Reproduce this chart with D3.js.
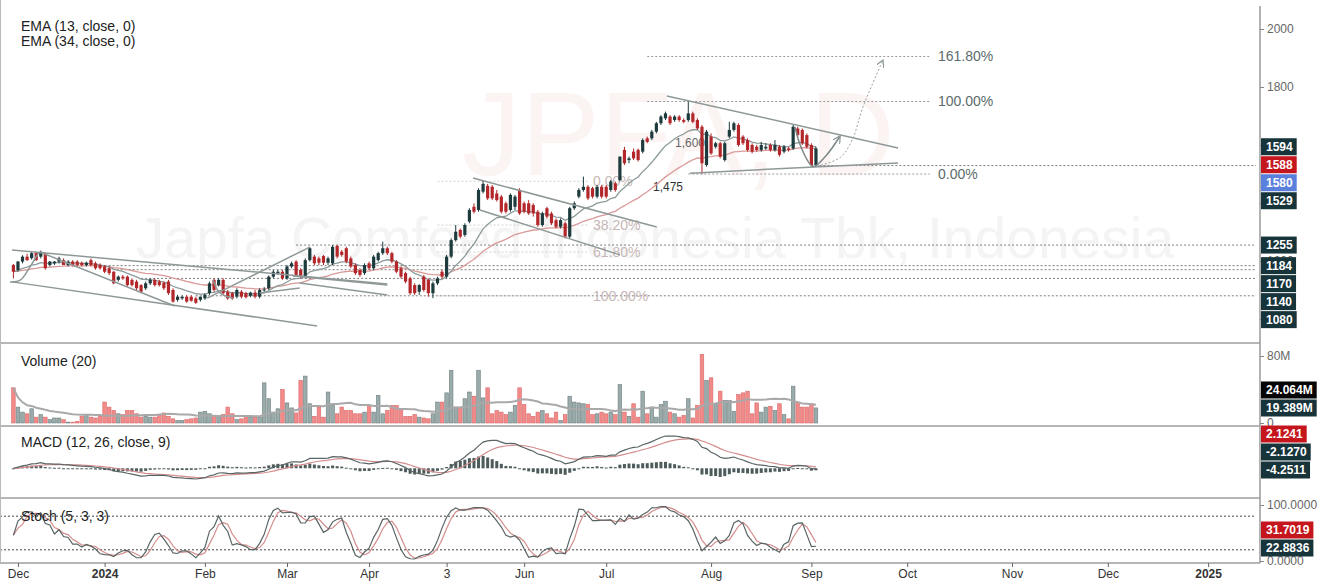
<!DOCTYPE html>
<html>
<head>
<meta charset="utf-8">
<script src="https://cdn.jsdelivr.net/npm/d3@7"></script>
<style>
  html, body { margin: 0; padding: 0; background: #fff; }
  svg { display: block; font-family: Arial, "Liberation Sans", sans-serif; }
</style>
</head>
<body>
<div id="chart"></div>
<script>
// daily bars, JPFA Nov 30 2023 .. Sep 3 2024 (index = trading day)
const open = [
  1186,1169,1198,1215,1210,1229,1215,1225,1186,1192, 1198,1203,1186,1198,1198,1194,1186,1203,1192,1186,
  1181,1175,1163,1135,1146,1146,1135,1129,1117,1106, 1123,1135,1129,1125,1129,1100,1066,1071,1077,1077,
  1071,1066,1071,1089,1135,1117,1135,1094,1089,1077, 1094,1089,1080,1091,1077,1100,1106,1146,1158,1163,
  1140,1181,1198,1169,1146,1203,1215,1209,1217,1194, 1192,1252,1232,1244,1209,1186,1169,1158,1192,1175,
  1203,1227,1244,1227,1198,1175,1158,1140,1117,1094, 1146,1135,1089,1123,1163,1146,1215,1272,1307,1290,
  1336,1387,1376,1439,1459,1456,1433,1422,1399,1376, 1387,1445,1399,1399,1393,1370,1324,1382,1364,1341,
  1318,1330,1284,1382,1422,1445,1456,1451,1422,1456, 1456,1445,1468,1479,1583,1548,1577,1583,1577,1623,
  1623,1646,1675,1692,1698,1686,1698,1686,1686,1709, 1686,1663,1531,1629,1594,1606,1548,1629,1652,1669,
  1629,1617,1600,1594,1583,1588,1600,1583,1594,1577, 1588,1588,1657,1652,1634,1600,1531
];
const high = [
  1190,1200,1220,1225,1232,1232,1236,1230,1200,1200, 1215,1209,1203,1203,1203,1198,1198,1209,1198,1192,
  1186,1181,1165,1150,1152,1150,1140,1135,1120,1129, 1140,1140,1135,1129,1135,1106,1083,1083,1083,1083,
  1077,1077,1089,1129,1140,1140,1140,1100,1094,1106, 1100,1094,1094,1100,1106,1110,1150,1169,1169,1169,
  1186,1198,1203,1175,1209,1249,1221,1215,1221,1215, 1255,1255,1238,1249,1215,1192,1175,1192,1198,1221,
  1232,1267,1249,1232,1203,1181,1163,1146,1123,1120, 1152,1140,1129,1146,1169,1221,1278,1324,1312,1330,
  1382,1399,1451,1477,1466,1462,1445,1428,1405,1433, 1428,1451,1405,1410,1399,1376,1370,1387,1370,1347,
  1347,1336,1387,1405,1451,1491,1462,1456,1462,1462, 1462,1479,1474,1560,1594,1560,1588,1588,1623,1629,
  1652,1680,1703,1715,1703,1703,1703,1692,1752,1715, 1692,1669,1652,1640,1611,1611,1611,1680,1680,1675,
  1634,1623,1606,1600,1611,1606,1606,1617,1600,1600, 1594,1669,1663,1657,1640,1606,1594
];
const low = [
  1140,1163,1192,1200,1205,1200,1209,1170,1181,1186, 1192,1186,1181,1181,1181,1181,1181,1181,1170,1170,
  1158,1152,1120,1129,1135,1112,1112,1100,1089,1100, 1117,1112,1112,1100,1083,1056,1060,1066,1056,1060,
  1052,1060,1066,1083,1094,1112,1083,1066,1066,1071, 1071,1071,1075,1071,1071,1094,1100,1140,1152,1135,
  1135,1175,1146,1140,1140,1198,1186,1186,1186,1186, 1186,1209,1215,1192,1175,1152,1146,1152,1169,1169,
  1198,1221,1221,1192,1158,1140,1123,1083,1083,1083, 1094,1077,1072,1117,1140,1140,1209,1267,1278,1284,
  1330,1364,1370,1433,1410,1410,1405,1364,1364,1370, 1376,1359,1364,1359,1353,1318,1318,1347,1324,1312,
  1312,1278,1278,1376,1416,1439,1410,1416,1416,1416, 1416,1439,1439,1474,1531,1537,1548,1543,1571,1606,
  1617,1640,1669,1686,1669,1680,1680,1675,1680,1675, 1652,1500,1525,1566,1588,1554,1543,1623,1646,1594,
  1600,1577,1571,1577,1577,1583,1577,1577,1560,1571, 1577,1583,1629,1600,1588,1525,1525
];
const close = [
  1163,1198,1215,1203,1227,1203,1232,1175,1198,1198, 1209,1186,1198,1186,1186,1186,1194,1186,1175,1175,
  1163,1158,1123,1146,1140,1117,1117,1106,1094,1123, 1135,1117,1117,1106,1089,1060,1077,1077,1060,1063,
  1056,1077,1083,1123,1100,1135,1089,1071,1071,1100, 1077,1075,1091,1077,1100,1102,1146,1163,1163,1140,
  1181,1192,1152,1146,1203,1244,1192,1194,1194,1209, 1249,1215,1221,1198,1181,1158,1152,1186,1175,1215,
  1227,1244,1227,1198,1163,1146,1129,1089,1089,1117, 1100,1089,1123,1140,1146,1215,1272,1301,1284,1324,
  1376,1370,1445,1466,1416,1416,1410,1370,1370,1428, 1422,1364,1370,1364,1364,1324,1364,1353,1330,1318,
  1341,1284,1382,1399,1445,1456,1416,1422,1456,1422, 1422,1474,1445,1560,1537,1554,1554,1548,1617,1611,
  1646,1675,1698,1709,1675,1698,1686,1680,1709,1680, 1657,1537,1646,1571,1606,1560,1606,1652,1675,1600,
  1606,1583,1577,1583,1600,1594,1583,1600,1566,1594, 1583,1663,1634,1606,1594,1531,1588
];
// volume in millions
const volume = [
  42,19,13,11,17,7,10,7,4,6, 6,4,1,1,2,8,10,7,6,8,
  25,19,15,11,10,15,15,11,7,8, 7,7,9,12,8,5,3,3,4,5,
  6,13,14,11,9,9,10,19,11,4, 5,7,7,7,7,48,29,13,17,40,
  24,18,12,51,56,23,8,19,7,37, 21,11,19,15,15,11,11,13,21,13,
  33,11,15,21,21,15,8,8,10,7, 6,5,11,25,25,36,63,19,19,29,
  37,32,63,30,42,11,15,13,10,13, 21,42,22,11,8,13,15,11,6,13,
  3,10,32,25,24,23,22,10,11,13, 11,13,10,46,13,8,23,7,38,11,
  19,7,22,26,13,11,7,9,29,6, 21,82,51,54,22,38,27,27,14,34,
  36,38,11,24,13,19,20,15,23,10, 5,44,25,19,19,23,18
];

// x axis labels (bar index where the month starts)
const monthIdx = [1, 20, 42, 60, 78, 95, 112, 130, 153, 175, 196, 219, 240, 262];
const monthLbl = ["Dec", "2024", "Feb", "Mar", "Apr", "3", "Jun", "Jul", "Aug", "Sep", "Oct", "Nov", "Dec", "2025"];

// right-hand value tags
const priceTagVals = [1594, 1588, 1580, 1529];
const priceTagCols = ["#17343a", "#c4161c", "#5b7fdc", "#17343a"];
const levelVals = [1255, 1184, 1170, 1140, 1080];
const levelFrom = [62, 20, 20, 28, 40];
const volTagVals = [24.064, 19.389];
const volTagCols = ["#050505", "#17343a"];
const macdTagVals = [2.1241, -2.1270, -4.2511];
const macdTagCols = ["#c4161c", "#17343a", "#17343a"];
const stochTagVals = [31.7019, 22.8836];
const stochTagCols = ["#c4161c", "#17343a"];

// fibonacci drawings
const fibHiLevels = [1905, 1750, 1500];
const fibHiLabels = ["161.80%", "100.00%", "0.00%"];
const fibLoLevels = [1475, 1324, 1231, 1080];
const fibLoLabels = ["0.00%", "38.20%", "61.80%", "100.00%"];

// trendlines drawn on the chart, [bar index, price]
const trendLines = [
  [[-0.3, 1238], [82, 1121]],
  [[5.8, 1231], [35.4, 1045]],
  [[-0.3, 1128], [66.6, 976]],
  [[42.5, 1072], [65, 1248]],
  [[61.3, 1148], [82, 1117]],
  [[62.8, 1124], [82, 1083]],
  [[54, 1090], [62.8, 1107]],
  [[100.8, 1486], [141.1, 1317]],
  [[102.3, 1376], [133, 1221]],
  [[143.3, 1769], [194, 1590]],
  [[148.4, 1503], [194, 1538]]
];
const arcs = [
  [[-0.75, 1128], [1.5, 1134], [3.6, 1179], [5.6, 1231]],
  [[43.8, 1134], [45.3, 1090], [48.2, 1072]]
];
const cup = [[171.4, 1662], [172.8, 1590], [175.4, 1526], [178.3, 1565], [181.3, 1631]];
const projection = [[175.4, 1524], [181.3, 1557], [184, 1620], [186.3, 1731], [190.7, 1893]];

// ---------- indicators ----------
function ema(arr, n) {
  const k = 2 / (n + 1), out = [];
  arr.forEach((v, i) => out.push(i === 0 ? v : v * k + out[i - 1] * (1 - k)));
  return out;
}
function sma(arr, n) {
  return arr.map((v, i) => d3.mean(arr.slice(Math.max(0, i - n + 1), i + 1)));
}
const ema13 = ema(close, 13);
const ema34 = ema(close, 34);
const ema12 = ema(close, 12), ema26 = ema(close, 26);
const macd = ema12.map((v, i) => v - ema26[i]);
const signal = ema(macd, 9);
const hist = macd.map((v, i) => v - signal[i]);
// my bars are rougher than the real ones, so a longer look-back keeps the stoch as smooth as the original
const stochLook = 9;
const rawK = close.map((c, i) => {
  const lo = d3.min(low.slice(Math.max(0, i - stochLook + 1), i + 1));
  const hi = d3.max(high.slice(Math.max(0, i - stochLook + 1), i + 1));
  return hi === lo ? 50 : 100 * (c - lo) / (hi - lo);
});
const stochK = sma(rawK, 3);
const stochD = sma(stochK, 3);
const volMA = sma(volume, 20);

// ---------- layout ----------
const width = 1324, height = 582;
const plotR = 1256, axisX = 1260;
const mainB = 343, volB = 426, macdB = 498, stochB = 563;

const x = d3.scaleLinear().domain([-2.94, 272.5]).range([0, plotR]);
const y = d3.scaleLinear().domain([1000, 2000]).range([319, 29]);
const yVol = d3.scaleLinear().domain([0, 80]).range([423, 356]);
const yMacd = d3.scaleLinear().domain(d3.extent(macd.concat(signal, hist))).range([479, 436]);
const yStoch = d3.scaleLinear().domain([0, 100]).range([561, 505]);

const svg = d3.select("#chart").append("svg")
  .attr("width", width).attr("height", height);

const defs = svg.append("defs");
[["cMain", 0, mainB], ["cVol", mainB, volB], ["cMacd", volB, macdB], ["cStoch", macdB, stochB]]
  .forEach(([id, t, b]) => defs.append("clipPath").attr("id", id)
    .append("rect").attr("x", 0).attr("y", t).attr("width", plotR).attr("height", b - t));
defs.append("marker").attr("id", "arrow").attr("viewBox", "0 0 8 8")
  .attr("refX", 7).attr("refY", 4).attr("markerWidth", 8).attr("markerHeight", 8)
  .attr("orient", "auto").attr("markerUnits", "userSpaceOnUse")
  .append("path").attr("d", "M0,0L7,4L0,8").attr("fill", "none").attr("stroke", "#8a9494").attr("stroke-width", 1.2);

const up = "#1d3a3c", down = "#b3262a";

// ---------- main panel ----------
const main = svg.append("g").attr("clip-path", "url(#cMain)");

main.append("text").attr("x", 462).attr("y", 175).attr("font-size", 118)
  .attr("fill", "#fcf3f3").text("JPFA, D");
main.append("text").attr("x", 655).attr("y", 258).attr("font-size", 57).attr("text-anchor", "middle")
  .attr("fill", "#f4f4f4").text("Japfa Comfeed Indonesia Tbk, Indonesia");

// support levels
levelVals.forEach((v, k) => {
  main.append("line").attr("x1", x(levelFrom[k])).attr("x2", plotR)
    .attr("y1", y(v)).attr("y2", y(v))
    .attr("stroke", "#7d7d7d").attr("stroke-dasharray", "2,2");
});
main.append("line").attr("x1", x(175)).attr("x2", plotR)
  .attr("y1", y(1529)).attr("y2", y(1529))
  .attr("stroke", "#7d7d7d").attr("stroke-dasharray", "2,2");

// fib retracement (lower, faint)
fibLoLevels.forEach((v, k) => {
  main.append("line").attr("x1", x(93)).attr("x2", x(126)).attr("y1", y(v)).attr("y2", y(v))
    .attr("stroke", "#d2d2d2").attr("stroke-dasharray", "2,2");
  main.append("text").attr("x", 593).attr("y", y(v)).attr("dy", "0.35em")
    .attr("font-size", 14).attr("fill", "#c6b6b6").text(fibLoLabels[k]);
});
// fib extension (upper)
fibHiLevels.forEach((v, k) => {
  main.append("line").attr("x1", x(k === 2 ? 148 : 139)).attr("x2", x(201)).attr("y1", y(v)).attr("y2", y(v))
    .attr("stroke", "#9a9a9a").attr("stroke-dasharray", "2,2");
  main.append("text").attr("x", 938).attr("y", y(v)).attr("dy", "0.35em")
    .attr("font-size", 14).attr("fill", "#5c6b6b").text(fibHiLabels[k]);
});

main.append("text").attr("x", 653).attr("y", y(1475) + 6).attr("dy", "0.35em")
  .attr("font-size", 12).attr("fill", "#333").text("1,475");
main.append("text").attr("x", 675).attr("y", y(1600) - 2).attr("dy", "0.35em")
  .attr("font-size", 12).attr("fill", "#666").text("1,600");

// EMAs
const emaLine = arr => d3.line().x((d, i) => x(i)).y(d => y(d))(arr);
main.append("path").attr("d", emaLine(ema34)).attr("fill", "none")
  .attr("stroke", "#d99a98").attr("stroke-width", 1.3);
main.append("path").attr("d", emaLine(ema13)).attr("fill", "none")
  .attr("stroke", "#8d9b9b").attr("stroke-width", 1.3);

// candles
const bars = close.map((c, i) => ({ i, o: open[i], h: high[i], l: low[i], c, v: volume[i] }));
const cg = main.append("g").selectAll("g").data(bars).join("g");
cg.append("line")
  .attr("x1", d => x(d.i)).attr("x2", d => x(d.i))
  .attr("y1", d => y(d.h)).attr("y2", d => y(d.l))
  .attr("stroke", d => d.c >= d.o ? up : down).attr("stroke-width", 1);
cg.append("rect")
  .attr("x", d => x(d.i) - 1.6).attr("width", 3.2)
  .attr("y", d => y(Math.max(d.o, d.c)))
  .attr("height", d => Math.max(1, Math.abs(y(d.o) - y(d.c))))
  .attr("fill", d => d.c >= d.o ? up : down);

// trendlines
const tl = d3.line().x(d => x(d[0])).y(d => y(d[1]));
const tc = d3.line().x(d => x(d[0])).y(d => y(d[1])).curve(d3.curveCatmullRom);
trendLines.forEach(seg => main.append("path").attr("d", tl(seg)).attr("fill", "none")
  .attr("stroke", "#8f9898").attr("stroke-width", 1.5));
arcs.forEach(a => main.append("path").attr("d", tc(a)).attr("fill", "none")
  .attr("stroke", "#8f9898").attr("stroke-width", 1.5));
main.append("path").attr("d", tc(cup)).attr("fill", "none")
  .attr("stroke", "#7f8888").attr("stroke-width", 1.5).attr("marker-end", "url(#arrow)");
main.append("path").attr("d", tc(projection)).attr("fill", "none")
  .attr("stroke", "#9aa0a0").attr("stroke-width", 1).attr("stroke-dasharray", "2,2")
  .attr("marker-end", "url(#arrow)");

svg.append("text").attr("x", 21).attr("y", 31).attr("font-size", 14).attr("fill", "#222").text("EMA (13, close, 0)");
svg.append("text").attr("x", 21).attr("y", 46).attr("font-size", 14).attr("fill", "#222").text("EMA (34, close, 0)");

// ---------- volume ----------
const vol = svg.append("g").attr("clip-path", "url(#cVol)");
vol.selectAll("rect").data(bars).join("rect")
  .attr("x", d => x(d.i) - 1.8).attr("width", 3.6)
  .attr("y", d => yVol(d.v)).attr("height", d => yVol(0) - yVol(d.v))
  .attr("fill", d => d.c >= d.o ? "#9aabab" : "#f28a8a")
  .attr("stroke", d => d.c >= d.o ? "#6f7f7f" : "#d96a6a").attr("stroke-width", 0.6);
vol.append("path").attr("d", d3.line().x((d, i) => x(i)).y(d => yVol(d))(volMA))
  .attr("fill", "none").attr("stroke", "#a9a9a9").attr("stroke-width", 2);
svg.append("text").attr("x", 21).attr("y", 366).attr("font-size", 14).attr("fill", "#222").text("Volume (20)");

// ---------- MACD ----------
const mg = svg.append("g").attr("clip-path", "url(#cMacd)");
mg.selectAll("rect").data(hist).join("rect")
  .attr("x", (d, i) => x(i) - 1.5).attr("width", 3)
  .attr("y", d => Math.min(yMacd(d), yMacd(0)))
  .attr("height", d => Math.max(1, Math.abs(yMacd(d) - yMacd(0))))
  .attr("fill", "#4d5b5b");
mg.append("path").attr("d", d3.line().x((d, i) => x(i)).y(d => yMacd(d))(signal))
  .attr("fill", "none").attr("stroke", "#d48c8c").attr("stroke-width", 1.2);
mg.append("path").attr("d", d3.line().x((d, i) => x(i)).y(d => yMacd(d))(macd))
  .attr("fill", "none").attr("stroke", "#5a6464").attr("stroke-width", 1.2);
svg.append("text").attr("x", 21).attr("y", 447).attr("font-size", 14).attr("fill", "#222").text("MACD (12, 26, close, 9)");

// ---------- Stochastic ----------
const sg = svg.append("g").attr("clip-path", "url(#cStoch)");
[80, 20].forEach(v => sg.append("line").attr("x1", 0).attr("x2", plotR)
  .attr("y1", yStoch(v)).attr("y2", yStoch(v))
  .attr("stroke", "#444").attr("stroke-dasharray", "2,2"));
sg.append("path").attr("d", d3.line().x((d, i) => x(i)).y(d => yStoch(d))(stochD))
  .attr("fill", "none").attr("stroke", "#d48c8c").attr("stroke-width", 1.2);
sg.append("path").attr("d", d3.line().x((d, i) => x(i)).y(d => yStoch(d))(stochK))
  .attr("fill", "none").attr("stroke", "#5a6464").attr("stroke-width", 1.2);
svg.append("text").attr("x", 21).attr("y", 521).attr("font-size", 14).attr("fill", "#222").text("Stoch (5, 3, 3)");

// ---------- frames ----------
[mainB, volB, macdB, stochB].forEach(v => svg.append("line")
  .attr("x1", 0).attr("x2", axisX).attr("y1", v).attr("y2", v)
  .attr("stroke", "#6e6e6e").attr("stroke-width", 1));
svg.append("line").attr("x1", 0.5).attr("x2", 0.5).attr("y1", 0).attr("y2", stochB).attr("stroke", "#bbb");
svg.append("line").attr("x1", axisX).attr("x2", axisX).attr("y1", 6).attr("y2", stochB)
  .attr("stroke", "#9a9a9a").attr("stroke-width", 1.5);

// ---------- right axes ----------
function rightAxis(scale, vals, fmt) {
  const g = svg.append("g").attr("transform", `translate(${axisX},0)`)
    .call(d3.axisRight(scale).tickValues(vals).tickFormat(fmt).tickSize(4).tickPadding(3));
  g.select(".domain").remove();
  g.selectAll("line").attr("stroke", "#888");
  g.selectAll("text").attr("fill", "#666").attr("font-size", 12).attr("font-family", "Arial, Liberation Sans, sans-serif");
}
rightAxis(y, [1000, 1200, 1400, 1600, 1800, 2000], d3.format("d"));
rightAxis(yVol, [0, 80], d => d === 0 ? "0" : d + "M");
rightAxis(yStoch, [0, 100], d3.format(".4f"));

// tags that stack when they overlap
function drawTags(vals, cols, scale, fmt, limit) {
  const tags = vals.map((v, k) => ({ v, c: cols[k], y: scale(v) }));
  tags.sort((a, b) => a.y - b.y);
  for (let k = 1; k < tags.length; k++) {
    if (tags[k].y < tags[k - 1].y + 18) tags[k].y = tags[k - 1].y + 18;
  }
  const over = tags[tags.length - 1].y - limit;
  if (over > 0) tags.forEach(t => t.y -= over);
  tags.forEach(t => {
    const g = svg.append("g").attr("transform", `translate(${axisX + 1},${t.y})`);
    const rect = g.append("rect").attr("y", -8.5).attr("height", 17).attr("fill", t.c);
    const txt = g.append("text").attr("x", 5).attr("dy", "0.36em").attr("font-size", 12)
      .attr("font-weight", "bold").attr("fill", "#fff").text(fmt(t.v));
    rect.attr("width", txt.node().getComputedTextLength() + 9);
  });
}
drawTags(priceTagVals.concat(levelVals), priceTagCols.concat(levelVals.map(() => "#17343a")),
  y, d3.format("d"), 330);
drawTags(volTagVals, volTagCols, yVol, d => d.toFixed(3) + "M", 408);
drawTags(macdTagVals, macdTagCols, yMacd, d => d.toFixed(4), 470);
drawTags(stochTagVals, stochTagCols, yStoch, d => d.toFixed(4), 548);

// ---------- x axis ----------
const xa = svg.append("g").attr("transform", `translate(0,${stochB})`)
  .call(d3.axisBottom(x).tickValues(monthIdx).tickFormat((d, k) => monthLbl[k]).tickSize(4).tickPadding(2));
xa.select(".domain").remove();
xa.selectAll("line").attr("stroke", "#666");
xa.selectAll("text").attr("fill", "#333").attr("font-size", 12)
  .attr("font-family", "Arial, Liberation Sans, sans-serif")
  .attr("font-weight", (d, k) => /^\d{4}$/.test(monthLbl[k]) ? "bold" : "normal");
</script>
</body>
</html>
